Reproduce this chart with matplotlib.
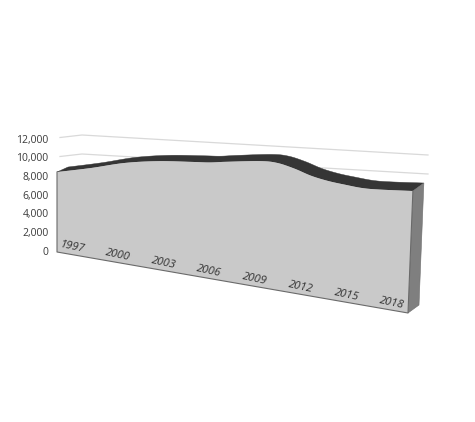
import numpy as np
import matplotlib
matplotlib.use("Agg")
import matplotlib.pyplot as plt
from matplotlib.patches import Polygon

plt.rcParams['font.family'] = ['Open Sans', 'DejaVu Sans']

years = [1997, 1999, 2001, 2003, 2005, 2006, 2007, 2009, 2010, 2011, 2012, 2013, 2014, 2015, 2016, 2018]
values = [8570, 9050, 9580, 9760, 9700, 9660, 9720, 9780, 9640, 9230, 8720, 8375, 8145, 7955, 7890, 7870]
year_labels = [1997, 2000, 2003, 2006, 2009, 2012, 2015, 2018]
axis_values = [0, 2000, 4000, 6000, 8000, 10000, 12000]
grid_values = [10000, 12000]

Y0, Y1 = years[0], years[-1]


def frac(year):
    return (np.asarray(year, float) - Y0) / (Y1 - Y0)


def front(year, v):
    """Project (year, value) on the slanted front wall to canvas pixels."""
    t = frac(year)
    k = 9.33 + 6.17 * t
    h = np.asarray(v, float) / 1000 * k
    return 57 + 351 * t + 0.04 * t * h, 252 + 61 * t - h


def back(year, v):
    t = frac(year)
    x, y = front(year, v)
    return x + 11, y - 5 - 3 * t


def back_wall(year, v):
    """Project onto the rear wall that carries the gridlines."""
    t = frac(year)
    return 82 + 346 * t, 135 + (12000 - np.asarray(v, float)) * 0.0095 + 20 * t


def smooth(xs, ys, n=24):
    xs, ys = np.asarray(xs, float), np.asarray(ys, float)
    px = np.r_[xs[0], xs, xs[-1]]
    py = np.r_[ys[0], ys, ys[-1]]
    ox, oy = [], []
    for i in range(1, len(px) - 2):
        u = np.linspace(0, 1, n, endpoint=False)
        for p, o in ((px, ox), (py, oy)):
            a, b, c, d = p[i - 1], p[i], p[i + 1], p[i + 2]
            o.extend(0.5 * (2 * b + (c - a) * u + (2 * a - 5 * b + 4 * c - d) * u ** 2
                            + (3 * b - a - 3 * c + d) * u ** 3))
    ox.append(xs[-1])
    oy.append(ys[-1])
    return np.array(ox), np.array(oy)


fig = plt.figure(figsize=(4.75, 4.22), dpi=100, facecolor='white')
ax = fig.add_axes([0, 0, 1, 1])
ax.set_xlim(0, 475)
ax.set_ylim(422, 0)
ax.axis('off')

# rear wall gridlines with the fold to the side wall at the left
for gv in grid_values:
    wx, wy = back_wall(np.array([Y0, Y1]), [gv, gv])
    ax.plot([wx[0] - 22, wx[0], wx[1]], [wy[0] + 2.5, wy[0], wy[1]],
            color='#d9d9d9', lw=0.9, zorder=1)

# surfaces
fx, fy = smooth(*front(np.array(years), np.array(values)))
rx, ry = smooth(*back(np.array(years), np.array(values)))
bx0, by0 = front(np.array([Y0, Y1]), [0, 0])
bkx, bky = back(np.array([Y1]), [0])

ax.add_patch(Polygon(np.c_[np.r_[fx, rx[::-1]], np.r_[fy, ry[::-1]]],
                     closed=True, fc='#353535', ec='#353535', lw=0.3, zorder=2))
ax.add_patch(Polygon([(fx[-1], fy[-1]), (rx[-1], ry[-1]), (bkx[0], bky[0]), (bx0[1], by0[1])],
                     closed=True, fc='#7f7f7f', ec='#6e6e6e', lw=0.4, zorder=2))
ax.add_patch(Polygon(np.c_[np.r_[fx, bx0[1], bx0[0]], np.r_[fy, by0[1], by0[0]]],
                     closed=True, fc='#c9c9c9', ec='none', zorder=3))
ax.plot([fx[0], bx0[0], bx0[1], fx[-1]], [fy[0], by0[0], by0[1], fy[-1]],
        color='#6a6a6a', lw=0.8, zorder=4)

# value axis labels
for v in axis_values:
    ax.text(48.5, 254.7 - v * 0.00933, f'{v:,}', ha='right', va='baseline',
            fontsize=7.5, color='#3a3a3a', zorder=5)

# year labels lying on the wall
for yr in year_labels:
    t = frac(yr)
    y = front(yr, 0)[1]
    ax.text(72 + 320 * t, y - 5 - 5 * t, str(yr), ha='center', va='center',
            fontsize=8.2, style='italic', color='#333333',
            rotation=-12, rotation_mode='anchor', zorder=5)

fig.savefig('out.png', dpi=100, facecolor='white')
